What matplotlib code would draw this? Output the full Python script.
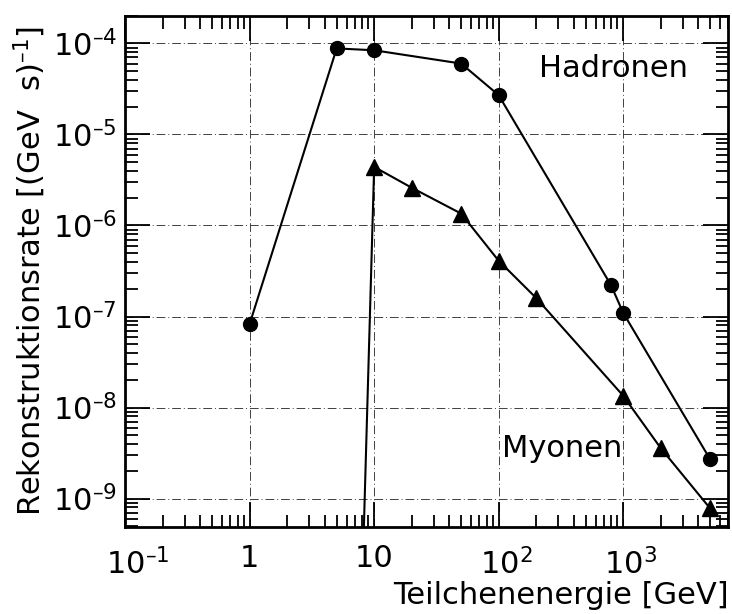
import matplotlib
matplotlib.use('Agg')
import matplotlib.pyplot as plt
import matplotlib.transforms as mtransforms
from matplotlib.ticker import FixedLocator, FixedFormatter, LogLocator, NullFormatter

# Hadronen (circles)
had_e = [1, 5, 10, 50, 100, 800, 1000, 5000]
had_r = [8.3e-8, 8.8e-5, 8.4e-5, 6.0e-5, 2.7e-5, 2.2e-7, 1.1e-7, 2.7e-9]

# Myonen (triangles); first point lies below the plotted range
myo_e = [8, 10, 20, 50, 100, 200, 1000, 2000, 5000]
myo_r = [1e-10, 4.4e-6, 2.6e-6, 1.35e-6, 4.1e-7, 1.6e-7, 1.35e-8, 3.6e-9, 7.8e-10]

DASH = '\u2013'
xticks = [0.1, 1, 10, 100, 1000]
xlabels = ['$10^{' + DASH + '1}$', '1', '10', '$10^{2}$', '$10^{3}$']
yticks = [1e-9, 1e-8, 1e-7, 1e-6, 1e-5, 1e-4]
ylabels = ['$10^{' + DASH + '%d}$' % n for n in (9, 8, 7, 6, 5, 4)]

plt.rcParams['font.family'] = ['DejaVu Sans']
plt.rcParams['mathtext.fontset'] = 'dejavusans'

fig = plt.figure(figsize=(7.32, 6.14), dpi=100)
ax = fig.add_axes([0.171, 0.142, 0.824, 0.832])
ax.set_xscale('log')
ax.set_yscale('log')

ax.plot(had_e, had_r, color='black', lw=1.5, marker='o', ms=10)
ax.plot(myo_e, myo_r, color='black', lw=1.5, marker='^', ms=11,
        markevery=list(range(1, len(myo_e))))

ax.set_xlim(0.1, 7000)
ax.set_ylim(4.9e-10, 2e-4)

ax.xaxis.set_major_locator(FixedLocator(xticks))
ax.xaxis.set_major_formatter(FixedFormatter(xlabels))
ax.yaxis.set_major_locator(FixedLocator(yticks))
ax.yaxis.set_major_formatter(FixedFormatter(ylabels))
ax.xaxis.set_minor_locator(LogLocator(base=10, subs=range(2, 10), numticks=20))
ax.yaxis.set_minor_locator(LogLocator(base=10, subs=range(2, 10), numticks=20))
ax.xaxis.set_minor_formatter(NullFormatter())
ax.yaxis.set_minor_formatter(NullFormatter())

ax.tick_params(which='both', direction='in', top=True, right=True, width=1.3)
ax.tick_params(which='major', length=18, labelsize=22)
ax.tick_params(axis='y', which='major', pad=6)
ax.tick_params(axis='x', which='major', pad=29)
ax.tick_params(which='minor', length=9)
for s in ax.spines.values():
    s.set_linewidth(2)

# x labels: same baseline, "10" centred on the tick, exponent hanging right
shift = mtransforms.ScaledTranslation(-19 / 100, -7 / 100, fig.dpi_scale_trans)
for tick, lab in zip(ax.xaxis.get_major_ticks(), xlabels):
    tick.label1.set_va('baseline')
    if '^' in lab:
        tick.label1.set_ha('left')
        tick.label1.set_transform(tick.label1.get_transform() + shift)

ax.grid(True, which='major', color='0.25', lw=0.7, linestyle=(0, (9, 3, 1, 3)))

ax.text(835, 4.24e-5, 'Hadronen', fontsize=22, ha='center', va='baseline')
ax.text(980, 2.83e-9, 'Myonen', fontsize=22, ha='right', va='baseline')

ax.set_xlabel('Teilchenenergie [GeV]', fontsize=22, loc='right', labelpad=1)
ax.set_ylabel('Rekonstruktionsrate [(GeV  s)$^{' + DASH + '1}$]', fontsize=22)
ax.yaxis.set_label_coords(-0.128, 0.5)

fig.savefig('out.png', dpi=100)
